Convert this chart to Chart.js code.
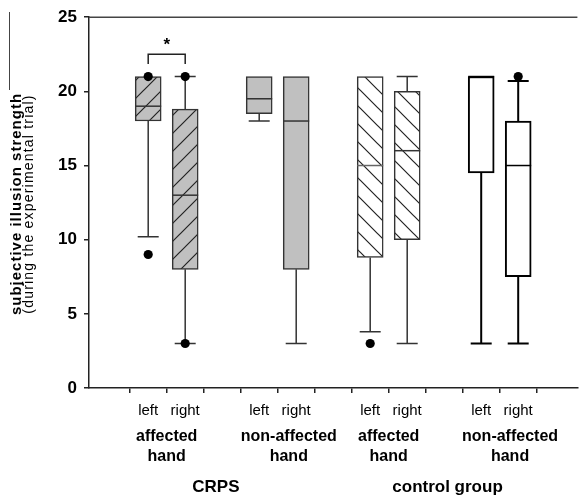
<!DOCTYPE html>
<html>
<head>
<meta charset="utf-8">
<script src="https://cdn.jsdelivr.net/npm/chart.js@4.4.0/dist/chart.umd.min.js"></script>
<style>
  html, body { margin: 0; padding: 0; background: #fff; }
  canvas { display: block; }
</style>
</head>
<body>
<canvas id="canvas" width="582" height="498"></canvas>
<script>
// Box plot values
var boxX = [1, 2, 4, 5, 7, 8, 10, 11];
var boxQ1 = [18, 8, 18.5, 8, 8.8, 10, 14.5, 7.5];
var boxQ3 = [21, 18.8, 21, 21, 21, 20, 21, 18];
var boxMedian = [19, 13, 19.5, 18, 15, 16, 21, 15];
var whiskerLow = [10.2, 3, 18, 3, 3.8, 3, 3, 3];
var whiskerHigh = [21, 21, 21, 21, 21, 21, 21, 20.7];

// Outliers (black dots)
var outlierX = [1, 1, 2, 2, 7, 11];
var outlierY = [21, 9, 21, 3, 3, 21];

// Labels
var xTickLabels = ['left', 'right', '', 'left', 'right', '', 'left', 'right', '', 'left', 'right'];
var handLabels = [['affected', 'hand'], ['non-affected', 'hand'], ['affected', 'hand'], ['non-affected', 'hand']];
var groupLabels = ['CRPS', 'control group'];
var yTicks = [0, 5, 10, 15, 20, 25];

// Where the label blocks sit (axis units)
var handLabelX = [1.5, 4.8, 7.5, 10.78];
var groupLabelX = [2.83, 9.09];

var FONT = "Arial, 'Liberation Sans', Helvetica, sans-serif";
var GRAY = '#c0c0c0';

var ctx = document.getElementById('canvas').getContext('2d');

// Function to build a hatch pattern
function makeHatch(fill, dir) {
  var s = 18;
  var c = document.createElement('canvas');
  c.width = s;
  c.height = s;
  var g = c.getContext('2d');
  g.fillStyle = fill;
  g.fillRect(0, 0, s, s);
  g.strokeStyle = '#222';
  g.lineWidth = 1.2;
  g.beginPath();
  if (dir === '/') {
    g.moveTo(-2, s + 2); g.lineTo(s + 2, -2);
    g.moveTo(-2, 2); g.lineTo(2, -2);
    g.moveTo(s - 2, s + 2); g.lineTo(s + 2, s - 2);
  } else {
    g.moveTo(-2, -2); g.lineTo(s + 2, s + 2);
    g.moveTo(s - 2, -2); g.lineTo(s + 2, 2);
    g.moveTo(-2, s - 2); g.lineTo(2, s + 2);
  }
  g.stroke();
  return ctx.createPattern(c, 'repeat');
}

var slash = makeHatch(GRAY, '/');
var backslash = makeHatch('#ffffff', '\\');
var boxFill = [slash, slash, GRAY, GRAY, backslash, backslash, '#ffffff', '#ffffff'];
var boxLine = ['#333', '#333', '#333', '#333', '#333', '#333', '#000', '#000'];
var boxLineWidth = [1.5, 1.5, 1.5, 1.5, 1.5, 1.5, 2, 2];

var boxPlugin = {
  id: 'boxParts',
  beforeDatasetsDraw: function (chart) {
    var x = chart.scales.x, y = chart.scales.y, c = chart.ctx;
    var capHalf = 10.5;
    c.save();
    boxX.forEach(function (bx, i) {
      var px = x.getPixelForValue(bx);
      c.strokeStyle = boxLine[i];
      c.lineWidth = boxLineWidth[i];
      c.beginPath();
      if (whiskerHigh[i] > boxQ3[i]) {
        c.moveTo(px, y.getPixelForValue(boxQ3[i]));
        c.lineTo(px, y.getPixelForValue(whiskerHigh[i]));
        c.moveTo(px - capHalf, y.getPixelForValue(whiskerHigh[i]));
        c.lineTo(px + capHalf, y.getPixelForValue(whiskerHigh[i]));
      }
      if (whiskerLow[i] < boxQ1[i]) {
        c.moveTo(px, y.getPixelForValue(boxQ1[i]));
        c.lineTo(px, y.getPixelForValue(whiskerLow[i]));
        c.moveTo(px - capHalf, y.getPixelForValue(whiskerLow[i]));
        c.lineTo(px + capHalf, y.getPixelForValue(whiskerLow[i]));
      }
      c.stroke();
    });
    c.restore();
  },
  afterDatasetDraw: function (chart, args) {
    if (args.meta.type !== 'bar') return;
    var y = chart.scales.y, c = chart.ctx;
    c.save();
    args.meta.data.forEach(function (bar, i) {
      var py = y.getPixelForValue(boxMedian[i]);
      c.strokeStyle = i === 4 ? '#666' : boxLine[i];
      c.lineWidth = 1.5;
      c.beginPath();
      c.moveTo(bar.x - bar.width / 2, py);
      c.lineTo(bar.x + bar.width / 2, py);
      c.stroke();
    });
    c.restore();
  },
  afterDraw: function (chart) {
    var x = chart.scales.x, y = chart.scales.y, c = chart.ctx, area = chart.chartArea;
    c.save();

    // top frame line
    c.strokeStyle = '#444';
    c.lineWidth = 1.5;
    c.beginPath();
    c.moveTo(area.left, y.getPixelForValue(25));
    c.lineTo(area.right, y.getPixelForValue(25));
    c.stroke();

    // thin line at the far left
    c.strokeStyle = '#444';
    c.lineWidth = 1;
    c.beginPath();
    c.moveTo(9.5, 12);
    c.lineTo(9.5, 90);
    c.stroke();

    // significance bracket
    c.strokeStyle = '#222';
    c.lineWidth = 1.5;
    c.beginPath();
    c.moveTo(x.getPixelForValue(1), y.getPixelForValue(21.85));
    c.lineTo(x.getPixelForValue(1), y.getPixelForValue(22.5));
    c.lineTo(x.getPixelForValue(2), y.getPixelForValue(22.5));
    c.lineTo(x.getPixelForValue(2), y.getPixelForValue(21.85));
    c.stroke();
    c.fillStyle = '#000';
    c.font = 'bold 17px ' + FONT;
    c.textAlign = 'center';
    c.textBaseline = 'alphabetic';
    c.fillText('*', x.getPixelForValue(1.5), y.getPixelForValue(23.4) + 9);

    // hand labels under the left/right ticks
    c.textBaseline = 'middle';
    c.font = 'bold 16px ' + FONT;
    handLabels.forEach(function (lines, i) {
      var px = x.getPixelForValue(handLabelX[i]);
      c.fillText(lines[0], px, 437);
      c.fillText(lines[1], px, 456.5);
    });

    // group labels
    c.font = 'bold 17px ' + FONT;
    groupLabels.forEach(function (t, i) {
      c.fillText(t, x.getPixelForValue(groupLabelX[i]), 487);
    });

    // y axis title, two lines
    c.translate(17, 204);
    c.rotate(-Math.PI / 2);
    c.font = 'bold 15px ' + FONT;
    c.letterSpacing = '1px';
    c.fillText('subjective illusion strength', 0, 0);
    c.font = '14px ' + FONT;
    c.letterSpacing = '1.2px';
    c.fillText('(during the experimental trial)', 0, 12);
    c.restore();
  }
};

var chart = new Chart(ctx, {
  type: 'bar',
  data: {
    datasets: [{
      type: 'bar',
      order: 1,
      data: boxX.map(function (bx, i) { return { x: bx, y: [boxQ1[i], boxQ3[i]] }; }),
      backgroundColor: boxFill,
      borderColor: boxLine,
      borderWidth: boxLineWidth,
      borderSkipped: false,
      barThickness: 26
    }, {
      type: 'scatter',
      order: 0,
      data: outlierX.map(function (ox, i) { return { x: ox, y: outlierY[i] }; }),
      backgroundColor: '#000',
      borderWidth: 0,
      pointRadius: 4.6
    }]
  },
  options: {
    responsive: false,
    animation: false,
    layout: { padding: { top: 17, left: 0, right: 0, bottom: 0 } },
    plugins: { legend: { display: false }, tooltip: { enabled: false } },
    scales: {
      x: {
        type: 'linear',
        min: 0,
        max: 12,
        afterBuildTicks: function (scale) {
          scale.ticks = xTickLabels.map(function (t, i) { return { value: i + 1 }; });
        },
        afterFit: function (scale) { scale.height = 110; },
        ticks: {
          callback: function (value) { return xTickLabels[value - 1] || ''; },
          font: { family: FONT, size: 15 },
          color: '#000',
          padding: 9,
          maxRotation: 0,
          autoSkip: false
        },
        grid: { drawOnChartArea: false, drawTicks: true, tickLength: 5, color: '#222', lineWidth: 1.5 },
        border: { color: '#222', width: 1.5 }
      },
      y: {
        min: 0,
        max: 25,
        afterBuildTicks: function (scale) {
          scale.ticks = yTicks.map(function (v) { return { value: v }; });
        },
        afterFit: function (scale) { scale.width = 89; },
        ticks: {
          font: { family: FONT, size: 17, weight: 'bold' },
          color: '#000',
          padding: 7
        },
        grid: { drawOnChartArea: false, drawTicks: true, tickLength: 5, color: '#222', lineWidth: 1.5 },
        border: { color: '#222', width: 1.5 }
      }
    }
  },
  plugins: [boxPlugin]
});
</script>
</body>
</html>
